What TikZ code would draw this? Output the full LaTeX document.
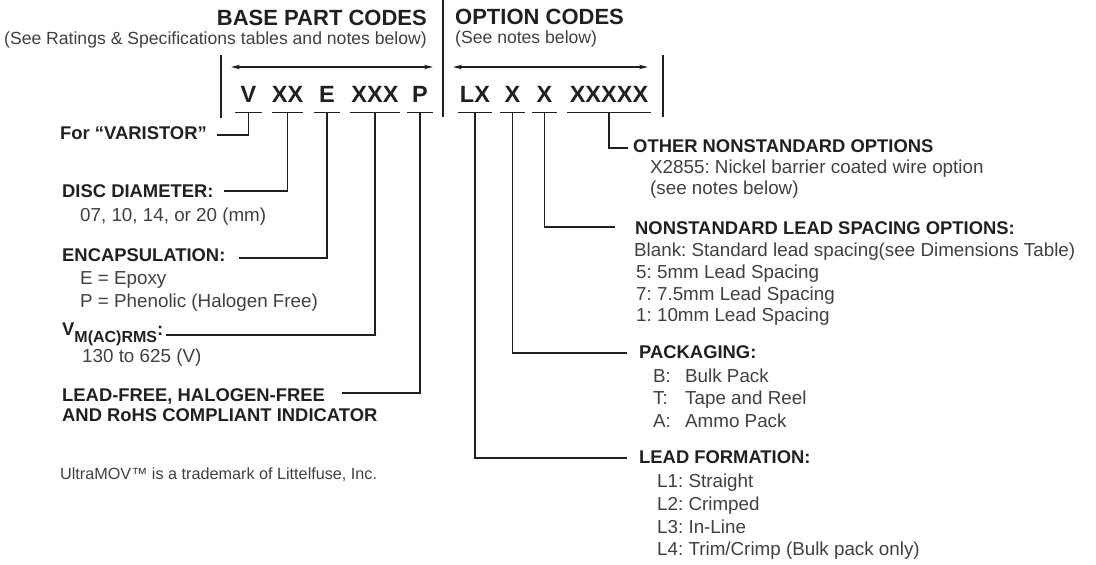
\documentclass[tikz,border=0pt]{standalone}
\usepackage{fontspec}
\setmainfont{Liberation Sans}
\usetikzlibrary{arrows.meta}
\definecolor{ink}{HTML}{231F20}
\definecolor{soft}{HTML}{404040}
\frenchspacing
\begin{document}
\begin{tikzpicture}[x=1pt,y=-1pt,
  wire/.style={draw=ink, line width=1.2pt},
  rule/.style={draw=ink, line width=1.4pt},
  span/.style={draw=ink, line width=1.4pt, {Stealth[length=9pt,width=4.5pt]}-{Stealth[length=9pt,width=4.5pt]}},
  hdr/.style={font=\fontsize{22}{22}\selectfont\bfseries, text=ink, inner sep=0pt},
  sub/.style={font=\fontsize{17.6}{17.6}\selectfont, text=soft, inner sep=0pt},
  codebox/.style={font=\fontsize{23.5}{23.5}\selectfont\bfseries, text=ink, inner sep=0pt,
    text height=17pt, text depth=10pt, anchor=base,
    append after command={(\tikzlastnode.south west) edge[wire] (\tikzlastnode.south east)}},
  lbl/.style={font=\fontsize{18.4}{18.4}\selectfont\bfseries, text=ink, inner sep=0pt, anchor=base west},
  txt/.style={font=\fontsize{18.8}{18.8}\selectfont, text=soft, inner sep=0pt, anchor=base west},
  note/.style={font=\fontsize{16.2}{16.2}\selectfont, text=soft, inner sep=0pt, anchor=base west}]
\useasboundingbox (0,0) rectangle (1096,565);

% headers
\node[hdr, anchor=base east] (hbase) at (427,25) {BASE PART CODES};
\node[sub, anchor=base east] (sbase) at (427,44) {(See Ratings \& Specifications tables and notes below)};
\node[hdr, anchor=base west] (hopt) at (455,24) {OPTION CODES};
\node[sub, anchor=base west] (sopt) at (455,43) {(See notes below)};

% dividers and spans
\draw[rule] (443,0) -- (443,117);
\draw[rule] (221,55) -- (221,118);
\draw[rule] (663,55) -- (663,117);
\draw[span] (231,67) -- (433,67);
\draw[span] (453,67) -- (648,67);

% code letters
\node[codebox, minimum width=27pt] (cV) at (248.5,102) {V};
\node[codebox, minimum width=25pt] (cXX) at (287.5,102) {XX};
\node[codebox, minimum width=26pt] (cE) at (327,102) {E};
\node[codebox, minimum width=50pt] (cXXX) at (375,102) {XXX};
\node[codebox, minimum width=26pt] (cP) at (420,102) {P};
\node[codebox, minimum width=34pt] (cLX) at (475,102) {LX};
\node[codebox, minimum width=25pt] (cXa) at (512.5,102) {X};
\node[codebox, minimum width=25pt] (cXb) at (544.5,102) {X};
\node[codebox, minimum width=84pt] (cXXXXX) at (609,102) {XXXXX};

% left labels
\node[lbl] (forV) at (60,139) {For “VARISTOR”};
\node[lbl] (disc) at (62,197) {DISC DIAMETER:};
\node[txt] (discT) at (80,221) {07, 10, 14, or 20 (mm)};
\node[lbl] (encap) at (62,261) {ENCAPSULATION:};
\node[txt] (encT1) at (80,284) {E = Epoxy};
\node[txt] (encT2) at (80,307) {P = Phenolic (Halogen Free)};
\node[lbl] (vm) at (62,335) {V\raisebox{-7pt}{\fontsize{16}{16}\selectfont M(AC)RMS}:};
\node[txt] (vmT) at (82,362) {130 to 625 (V)};
\node[lbl] (lf1) at (62,401) {LEAD-FREE, HALOGEN-FREE};
\node[lbl] (lf2) at (62,421) {AND RoHS COMPLIANT INDICATOR};
\node[note] (tm) at (60,479) {UltraMOV™ is a trademark of Littelfuse, Inc.};

% right labels
\node[lbl] (other) at (633,152) {OTHER NONSTANDARD OPTIONS};
\node[txt] (otherT1) at (650,173) {X2855: Nickel barrier coated wire option};
\node[txt] (otherT2) at (650,194) {(see notes below)};
\node[lbl] (nls) at (635,234) {NONSTANDARD LEAD SPACING OPTIONS:};
\node[txt] (nlsT1) at (634,256) {Blank: Standard lead spacing(see Dimensions Table)};
\node[txt] (nlsT2) at (636,278) {5: 5mm Lead Spacing};
\node[txt] (nlsT3) at (636,300) {7: 7.5mm Lead Spacing};
\node[txt] (nlsT4) at (636,321) {1: 10mm Lead Spacing};
\node[lbl] (pack) at (639,358) {PACKAGING:};
\node[txt] (packT1) at (653,382) {\makebox[32pt][l]{B:}Bulk Pack};
\node[txt] (packT2) at (653,404) {\makebox[32pt][l]{T:}Tape and Reel};
\node[txt] (packT3) at (653,427) {\makebox[32pt][l]{A:}Ammo Pack};
\node[lbl] (lform) at (639,463) {LEAD FORMATION:};
\node[txt] (lfT1) at (657,487) {L1: Straight};
\node[txt] (lfT2) at (657,510) {L2: Crimped};
\node[txt] (lfT3) at (657,533) {L3: In-Line};
\node[txt] (lfT4) at (657,555) {L4: Trim/Crimp (Bulk pack only)};

% connectors
\draw[wire] (cV.south) |- ([shift={(10,-4)}]forV.base east);
\draw[wire] (cXX.south) |- ([shift={(10,-6)}]disc.base east);
\draw[wire] (cE.south) |- ([shift={(13,-3)}]encap.base east);
\draw[wire] (cXXX.south) |- ([shift={(3,0)}]vm.base east);
\draw[wire] (cP.south) |- ([shift={(17,-8)}]lf1.base east);
\draw[wire] (cXXXXX.south) |- ([shift={(-5,-4)}]other.base west);
\draw[wire] (cXb.south) |- ([shift={(-20,-7)}]nls.base west);
\draw[wire] (cXa.south) |- ([shift={(-12,-5)}]pack.base west);
\draw[wire] (cLX.south) |- ([shift={(-12,-5)}]lform.base west);
\end{tikzpicture}
\end{document}
